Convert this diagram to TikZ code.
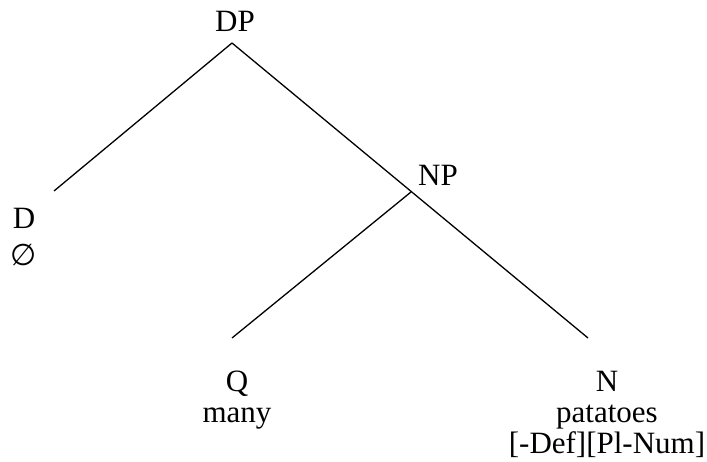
\documentclass[tikz,border=0pt]{standalone}
\usepackage{fontspec}
\setmainfont{Liberation Serif}
\newfontfamily\symfont{DejaVu Sans}
\begin{document}
\begin{tikzpicture}[x=1pt,y=-1pt,
  cat/.style={inner sep=0pt,anchor=base,font=\fontsize{31}{31}\selectfont,align=center},
  branch/.style={line width=1.3pt}]
  \useasboundingbox (0,0) rectangle (707,462);
  % Etiquettes des noeuds (ancre sur la derniere ligne)
  \node[cat] (dp) at (235,32) {DP};
  \node[cat] (np) at (438,186) {NP};
  \node[cat,font=\fontsize{31}{37}\selectfont] (d) at (24,266) {D\\{\symfont\fontsize{30}{37}\selectfont ∅}};
  \node[cat] (q) at (237,422) {Q\\many};
  \node[cat] (n) at (607,453) {N\\patatoes\\{[-Def][Pl-Num]}};
  % Points d'attache des branches
  \coordinate (dp-top) at (232,43);
  \coordinate (np-top) at (411,192);
  \coordinate (d-end) at (54,191);
  \coordinate (q-end) at (232,338);
  \coordinate (n-end) at (588,338);
  % Branches
  \draw[branch] (dp-top) -- (d-end);
  \draw[branch] (dp-top) -- (n-end);
  \draw[branch] (np-top) -- (q-end);
\end{tikzpicture}
\end{document}
